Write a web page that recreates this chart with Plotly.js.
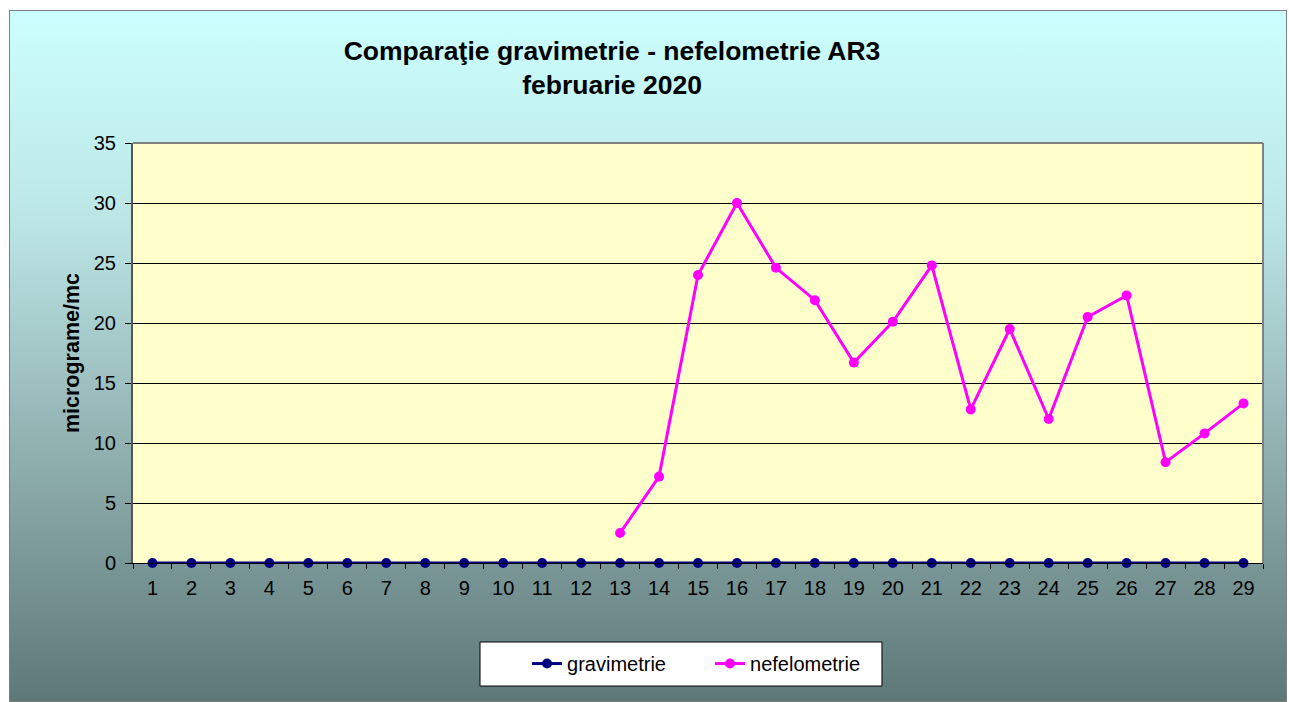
<!DOCTYPE html>
<html><head><meta charset="utf-8">
<script src="https://cdn.plot.ly/plotly-3.0.1.min.js"></script>
<style>
html,body{margin:0;padding:0;background:#fff;}
#wrap{position:relative;width:1289px;height:702px;}
#bg{position:absolute;left:9px;top:10px;width:1278px;height:692px;box-sizing:border-box;border:1px solid #808080;background:linear-gradient(to bottom,#CCFFFF 0%,#BCE6E6 30%,#8FAEAE 65%,#5E7878 100%);}
#chart{position:absolute;left:0;top:0;width:1289px;height:702px;}
</style></head>
<body><div id="wrap"><div id="bg"></div><div id="chart"></div></div>
<script>
const days = ['1','2','3','4','5','6','7','8','9','10','11','12','13','14','15','16','17','18','19','20','21','22','23','24','25','26','27','28','29'];
const gravimetrie = [0,0,0,0,0,0,0,0,0,0,0,0,0,0,0,0,0,0,0,0,0,0,0,0,0,0,0,0,0];
const nefelometrie = [null,null,null,null,null,null,null,null,null,null,null,null,2.5,7.2,24.0,30.0,24.6,21.9,16.7,20.1,24.8,12.8,19.5,12.0,20.5,22.3,8.4,10.8,13.3];
const F = 'Liberation Sans, Arial, sans-serif';
const traces = [
 {x: days, y: gravimetrie, name:'gravimetrie', type:'scatter', mode:'lines+markers', cliponaxis:false,
  line:{color:'#000080', width:3}, marker:{color:'#000080', size:10}},
 {x: days, y: nefelometrie, name:'nefelometrie', type:'scatter', mode:'lines+markers', cliponaxis:false,
  line:{color:'#FF00FF', width:3}, marker:{color:'#FF00FF', size:10}, connectgaps:false}
];
const layout = {
 width:1289, height:702,
 paper_bgcolor:'rgba(0,0,0,0)', plot_bgcolor:'#FFFFCC',
 margin:{l:133, r:26, t:143, b:139},
 font:{family:F, color:'#000'},
 title:{text:'<b>Comparaţie gravimetrie - nefelometrie AR3<br>februarie 2020</b>', x:0.4748, xanchor:'center', y:0.915, yanchor:'middle', font:{size:26.5, family:F}},
 xaxis:{type:'category', range:[-0.5,28.5], tickson:'boundaries', ticks:'outside', ticklen:5, tickcolor:'#000', tickfont:{size:20}, ticklabelstandoff:7, showgrid:false, showline:true, linecolor:'#000', linewidth:1, zeroline:false, fixedrange:true},
 yaxis:{range:[0,35], dtick:5, ticks:'outside', ticklen:6, tickcolor:'#000', tickfont:{size:20}, ticklabelstandoff:5, showgrid:true, gridcolor:'#000', gridwidth:1, showline:true, linecolor:'#555', linewidth:2, zeroline:false,
  title:{text:'<b>micrograme/mc</b>', font:{size:21.5}, standoff:8}},
 shapes:[{type:'line', xref:'paper', yref:'paper', x0:0, x1:1, y0:1, y1:1, line:{color:'#808080', width:2}},
         {type:'line', xref:'paper', yref:'paper', x0:1, x1:1, y0:0, y1:1, line:{color:'#808080', width:2}},
         {type:'rect', xref:'paper', yref:'paper', x0:0.3071, x1:0.6628, y0:-0.2929, y1:-0.1881, fillcolor:'#FFFFFF', line:{color:'#000', width:1}}],
 showlegend:true,
 legend:{orientation:'h', x:0.3487, xanchor:'left', y:-0.193, yanchor:'top', bgcolor:'rgba(0,0,0,0)', borderwidth:0, font:{size:20}, entrywidth:138, traceorder:'normal'}
};
Plotly.newPlot('chart', traces, layout, {staticPlot:true});
</script></body></html>
